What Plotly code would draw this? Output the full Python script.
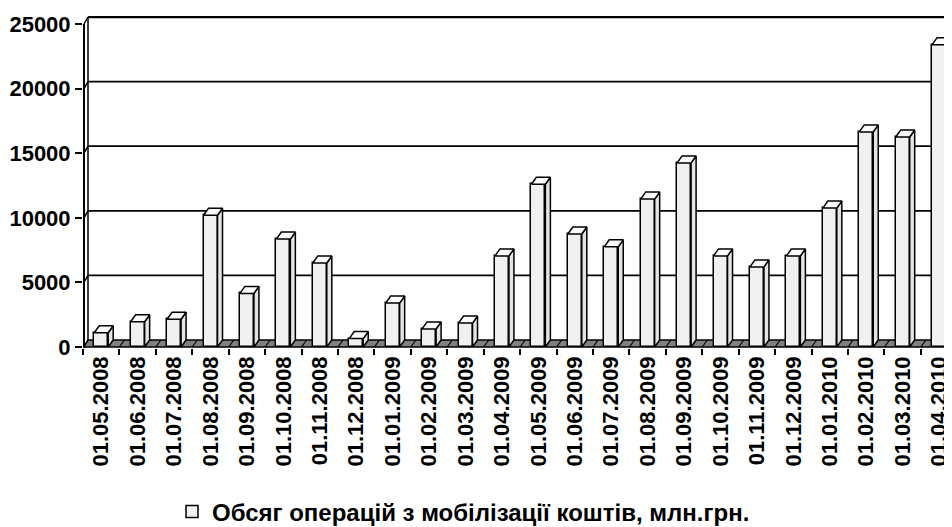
import plotly.graph_objects as go

# ---------------- data ----------------
dates = ["01.05.2008", "01.06.2008", "01.07.2008", "01.08.2008", "01.09.2008",
         "01.10.2008", "01.11.2008", "01.12.2008", "01.01.2009", "01.02.2009",
         "01.03.2009", "01.04.2009", "01.05.2009", "01.06.2009", "01.07.2009",
         "01.08.2009", "01.09.2009", "01.10.2009", "01.11.2009", "01.12.2009",
         "01.01.2010", "01.02.2010", "01.03.2010", "01.04.2010"]
values = [1100, 1950, 2150, 10200, 4150, 8350, 6500, 650, 3400, 1400,
          1850, 7050, 12600, 8750, 7750, 11450, 14250, 7050, 6200, 7050,
          10750, 16650, 16250, 23400]
y_ticks = [0, 5000, 10000, 15000, 20000, 25000]
y_tick_labels = ["0", "5000", "10000", "15000", "20000", "25000"]
series_name = "Обсяг операцій з мобілізації коштів, млн.грн."

# ---------------- geometry ----------------
# the page has an 8px body margin, so the figure is drawn 8px smaller and
# all pixel positions below are relative to the figure's own top-left corner
OFF = 8
W, H = 952 - OFF, 527 - OFF
PLOT_L, PLOT_T, PLOT_B = 83 - OFF, 16 - OFF, 348 - OFF
ZERO_PX = 347 - OFF
PX_CAT = 36.43                      # pixels per category
PX_VAL = 323 / 25000                # pixels per value unit
xmin = -0.5
xmax = xmin + (W - PLOT_L) / PX_CAT
ymin = -(PLOT_B - ZERO_PX) / PX_VAL
ymax = (ZERO_PX - PLOT_T) / PX_VAL
DX = 5 / PX_CAT                     # 3D depth offset (x)
DY = 7 / PX_VAL                     # 3D depth offset (y)
BAR_W = 14 / PX_CAT
AX_X = xmin + 1.0 / PX_CAT          # front value-axis line, just inside the plot

FONT = "Liberation Sans, Arial, sans-serif"
xs = list(range(len(dates)))

fig = go.Figure()

# front faces (the real bars)
fig.add_trace(go.Bar(
    x=xs, y=values, width=BAR_W, name=series_name,
    marker=dict(color="#f0f0f0", line=dict(color="black", width=1.5)),
    showlegend=True,
))

# side and top faces computed from values
side_x, side_y, top_x, top_y = [], [], [], []
for x, v in zip(xs, values):
    r = x + BAR_W / 2
    l = x - BAR_W / 2
    side_x += [r, r, r + DX, r + DX, r, None]
    side_y += [0, v, v + DY, DY, 0, None]
    top_x += [l, r, r + DX, l + DX, l, None]
    top_y += [v, v, v + DY, v + DY, v, None]

fig.add_trace(go.Scatter(x=side_x, y=side_y, mode="lines", fill="toself",
                         fillcolor="#e4e4e4", line=dict(color="black", width=1.5),
                         hoverinfo="skip", showlegend=False))
fig.add_trace(go.Scatter(x=top_x, y=top_y, mode="lines", fill="toself",
                         fillcolor="#fbfbfb", line=dict(color="black", width=1.5),
                         hoverinfo="skip", showlegend=False))

# ---------------- walls & floor (shapes, below traces) ----------------
shapes = []
xr = xmax + 1
for v in y_ticks[1:]:
    shapes.append(dict(type="line", xref="x", yref="y", layer="below",
                       x0=xmin + DX, x1=xr, y0=v + DY, y1=v + DY,
                       line=dict(color="black", width=2.5 if v == y_ticks[-1] else 1.8)))
shapes.append(dict(type="line", xref="x", yref="y", layer="below",
                   x0=xmin + DX, x1=xmin + DX, y0=DY, y1=y_ticks[-1] + DY,
                   line=dict(color="black", width=1.5)))
for v in y_ticks:
    shapes.append(dict(type="line", xref="x", yref="y", layer="below",
                       x0=AX_X, x1=xmin + DX, y0=v, y1=v + DY,
                       line=dict(color="black", width=1.5)))
shapes.append(dict(type="path", xref="x", yref="y", layer="below",
                   path=f"M {AX_X},0 L {xr},0 L {xr + DX},{DY} L {xmin + DX},{DY} Z",
                   fillcolor="#808080", line=dict(color="black", width=1.5)))
for i in range(1, len(dates) + 1):
    b = i - 0.5
    shapes.append(dict(type="line", xref="x", yref="y", layer="below",
                       x0=b, x1=b + DX, y0=0, y1=DY,
                       line=dict(color="black", width=1.2)))
# front value-axis line (from the floor up to the top tick only)
shapes.append(dict(type="line", xref="x", yref="y", layer="above",
                   x0=AX_X, x1=AX_X, y0=ymin, y1=y_ticks[-1],
                   line=dict(color="black", width=2)))

fig.update_layout(
    width=W, height=H,
    margin=dict(l=PLOT_L, r=0, t=PLOT_T, b=H - PLOT_B),
    paper_bgcolor="white", plot_bgcolor="white",
    shapes=shapes,
    font=dict(family=FONT, color="black"),
    bargap=0,
    xaxis=dict(
        range=[xmin, xmax], tickmode="array", tickvals=xs, ticktext=dates,
        tickangle=-90, ticks="", showgrid=False, zeroline=False, showline=False,
        automargin=False,
        tickfont=dict(family=FONT, size=22, color="black", weight="bold"),
        ticklabelstandoff=3,
        minor=dict(tickmode="linear", tick0=-0.5, dtick=1, ticks="outside",
                   ticklen=6, tickwidth=1.5, tickcolor="black", showgrid=False),
    ),
    yaxis=dict(
        range=[ymin, ymax], tickmode="array", tickvals=y_ticks, ticktext=y_tick_labels,
        ticks="outside", ticklen=7, tickwidth=1.5, tickcolor="black",
        showgrid=False, zeroline=False, showline=False,
        automargin=False,
        tickfont=dict(family=FONT, size=22, color="black", weight="bold"),
    ),
    legend=dict(
        orientation="h", xref="container", yref="container",
        x=(172 - OFF) / W, xanchor="left", y=1 - (512 - OFF) / H, yanchor="middle",
        font=dict(family=FONT, size=24, color="black", weight="bold"),
        bgcolor="rgba(0,0,0,0)",
    ),
)

fig.write_html("out.html")
